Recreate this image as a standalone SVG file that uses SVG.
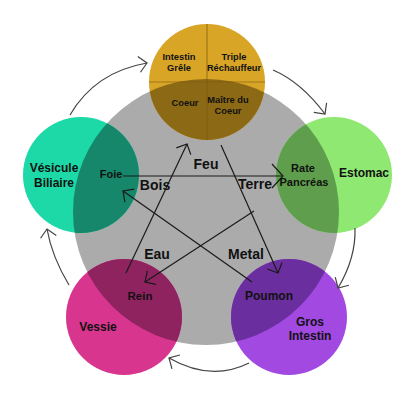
<svg xmlns="http://www.w3.org/2000/svg" width="414" height="402" viewBox="0 0 414 402">
<defs>
<clipPath id="grayClip"><circle cx="206" cy="212" r="133"/></clipPath>
<marker id="arr" markerUnits="userSpaceOnUse" markerWidth="14" markerHeight="18" refX="8" refY="8" orient="auto" overflow="visible">
<path d="M0,0 L8,8 L0,16" fill="none" stroke="#1a1a1a" stroke-width="1.2"/>
</marker>
<marker id="arrL" markerUnits="userSpaceOnUse" markerWidth="16" markerHeight="26" refX="11" refY="12" orient="auto" overflow="visible">
<path d="M0,0 L11,12 L0,24" fill="none" stroke="#1a1a1a" stroke-width="1.2"/>
</marker>
<marker id="arrO" markerUnits="userSpaceOnUse" markerWidth="14" markerHeight="18" refX="8" refY="8" orient="auto" overflow="visible">
<path d="M0,0 L8,8 L0,16" fill="none" stroke="#444" stroke-width="1.2"/>
</marker>
</defs>
<style>
.t{font-family:"Liberation Sans",Arial,sans-serif;font-weight:bold;fill:#111;text-anchor:middle}
.in{fill:none;stroke:#1a1a1a;stroke-width:1.2;marker-end:url(#arr)}
.out{fill:none;stroke:#444;stroke-width:1.2;marker-end:url(#arrO)}
.div{stroke:#7a5a0e;stroke-width:1.2;opacity:0.6}
</style>
<rect width="414" height="402" fill="#fff"/>
<g id="center">
<circle cx="206" cy="212" r="133" fill="#ababab"/>
</g>
<g id="fire">
<circle cx="207" cy="82" r="58" fill="#d9a527"/>
<circle cx="207" cy="82" r="58" fill="#8c6914" clip-path="url(#grayClip)"/>
<line class="div" x1="207" y1="24" x2="207" y2="140"/>
<line class="div" x1="149" y1="82" x2="265" y2="82"/>
<text class="t" x="179" y="60" font-size="9.3">Intestin</text>
<text class="t" x="179" y="71" font-size="9.3">Grêle</text>
<text class="t" x="234" y="60" font-size="9.3">Triple</text>
<text class="t" x="234" y="71" font-size="9.3">Réchauffeur</text>
<text class="t" x="185" y="106" font-size="9.3">Coeur</text>
<text class="t" x="228" y="103" font-size="9.3">Maître du</text>
<text class="t" x="228" y="114" font-size="9.3">Coeur</text>
</g>
<g id="wood">
<circle cx="81" cy="175" r="58" fill="#1dd9a7"/>
<circle cx="81" cy="175" r="58" fill="#16876a" clip-path="url(#grayClip)"/>
</g>
<g id="earth">
<circle cx="334" cy="175" r="58" fill="#8ee872"/>
<circle cx="334" cy="175" r="58" fill="#5e9e4c" clip-path="url(#grayClip)"/>
</g>
<g id="water">
<circle cx="124" cy="317" r="58" fill="#d8368e"/>
<circle cx="124" cy="317" r="58" fill="#8e2360" clip-path="url(#grayClip)"/>
</g>
<g id="metal">
<circle cx="289" cy="317" r="58" fill="#a249e2"/>
<circle cx="289" cy="317" r="58" fill="#6b2e9e" clip-path="url(#grayClip)"/>
</g>
<g id="connectors">
<path class="in" d="M123,176 L283,176" style="marker-end:url(#arrL)"/>
<path class="in" d="M126,273 L187,144"/>
<path class="in" d="M221,145 L278,273"/>
<path class="in" d="M254,211 L145,282"/>
<path class="in" d="M252,282 L123,191"/>
<path class="out" d="M70,115 Q95,72 147,63"/>
<path class="out" d="M273,70 Q301,82 325,114"/>
<path class="out" d="M355,228 Q356,258 338,288"/>
<path class="out" d="M249,363 Q211,382 169,358"/>
<path class="out" d="M69,285 Q52,257 47,229"/>
</g>
<g id="labels">
<text class="t" x="54" y="172" font-size="12">Vésicule</text>
<text class="t" x="54" y="187" font-size="12">Biliaire</text>
<text class="t" x="111" y="178" font-size="11">Foie</text>
<text class="t" x="155" y="190" font-size="14">Bois</text>
<text class="t" x="206" y="169" font-size="14">Feu</text>
<text class="t" x="255" y="189" font-size="14">Terre</text>
<text class="t" x="157" y="259" font-size="14">Eau</text>
<text class="t" x="246" y="259" font-size="14">Metal</text>
<text class="t" x="303" y="172" font-size="11">Rate</text>
<text class="t" x="304" y="186" font-size="11">Pancréas</text>
<text class="t" x="364" y="177" font-size="12">Estomac</text>
<text class="t" x="140" y="300" font-size="11.5">Rein</text>
<text class="t" x="98" y="331" font-size="12">Vessie</text>
<text class="t" x="269" y="300" font-size="12">Poumon</text>
<text class="t" x="310" y="326" font-size="12">Gros</text>
<text class="t" x="310" y="340" font-size="12">Intestin</text>
</g>
</svg>
